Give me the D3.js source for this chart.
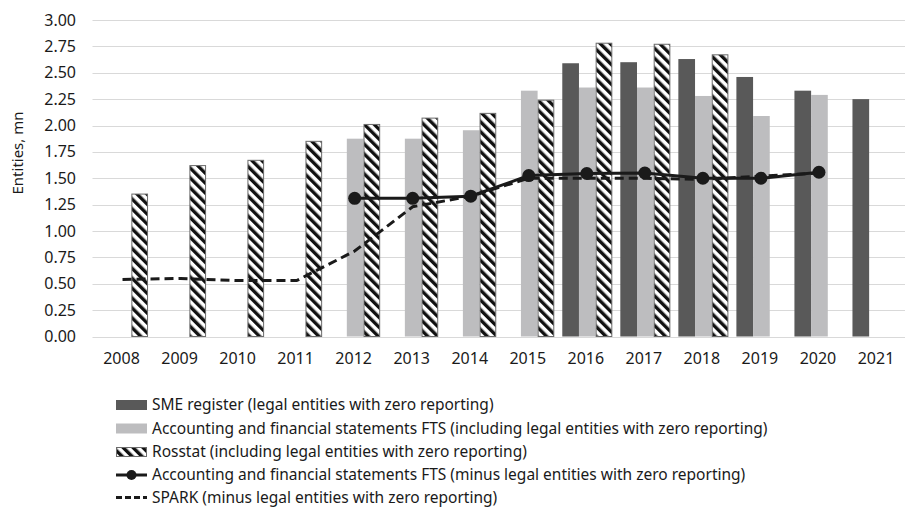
<!DOCTYPE html>
<html>
<head>
<meta charset="utf-8">
<script src="https://cdn.jsdelivr.net/npm/d3@7"></script>
<style>
  body { margin: 0; background: #fff; }
  text { font-family: "Noto Sans", sans-serif; fill: #1a1a1a; }
</style>
</head>
<body>
<div id="chart"></div>
<script>
// data
const years = ["2008","2009","2010","2011","2012","2013","2014","2015","2016","2017","2018","2019","2020","2021"];
const smeRegister = [null,null,null,null,null,null,null,null,2.59,2.60,2.63,2.46,2.33,2.25];
const ftsIncl     = [null,null,null,null,1.875,1.875,1.955,2.33,2.36,2.36,2.28,2.09,2.29,null];
const rosstat     = [1.35,1.62,1.67,1.85,2.01,2.07,2.115,2.24,2.78,2.77,2.67,null,null,null];
const ftsMinus    = [null,null,null,null,1.31,1.31,1.33,1.525,1.545,1.55,1.50,1.50,1.557,null];
const spark       = [0.54,0.55,0.53,0.53,0.81,1.23,1.33,1.50,1.50,1.50,1.49,1.52,1.55,null];
const yTicks = [0,0.25,0.5,0.75,1,1.25,1.5,1.75,2,2.25,2.5,2.75,3];
const legendLabels = [
  "SME register (legal entities with zero reporting)",
  "Accounting and financial statements FTS (including legal entities with zero reporting)",
  "Rosstat (including legal entities with zero reporting)",
  "Accounting and financial statements FTS (minus legal entities with zero reporting)",
  "SPARK (minus legal entities with zero reporting)"
];

const W = 905, H = 509;
const svg = d3.select("#chart").append("svg")
  .attr("width", W).attr("height", H);

// hatch pattern for Rosstat
const defs = svg.append("defs");
const pat = defs.append("pattern")
  .attr("id", "hatch")
  .attr("patternUnits", "userSpaceOnUse")
  .attr("width", 7).attr("height", 7)
  .attr("patternTransform", "rotate(-45)");
pat.append("rect").attr("width", 7).attr("height", 7).attr("fill", "#fff");
pat.append("rect").attr("x", 0).attr("width", 3.4).attr("height", 7).attr("fill", "#111");

const x = d3.scaleBand().domain(years).range([92.5, 905]);
const bw = x.bandwidth();
const keys = ["sme", "fts", "ros"];
const x1 = d3.scaleBand().domain(keys).range([5.5, bw - 2.5]);
const y = d3.scaleLinear().domain([0, 3]).range([336.5, 20]);

// grid
svg.append("g")
  .selectAll("line")
  .data(yTicks)
  .join("line")
  .attr("x1", 92.5).attr("x2", 905)
  .attr("y1", d => Math.round(y(d)) + 0.5).attr("y2", d => Math.round(y(d)) + 0.5)
  .attr("stroke", "#d9d9d9").attr("stroke-width", 1);

// y axis labels
svg.append("g")
  .selectAll("text")
  .data(yTicks)
  .join("text")
  .attr("x", 76).attr("y", d => y(d))
  .attr("dy", "0.35em")
  .attr("text-anchor", "end")
  .style("font-size", "16px")
  .text(d => d3.format(".2f")(d));

svg.append("text")
  .attr("transform", "translate(23,153) rotate(-90)")
  .attr("text-anchor", "middle")
  .style("font-size", "15px")
  .text("Entities, mn");

// x axis labels
svg.append("g")
  .selectAll("text")
  .data(years)
  .join("text")
  .attr("x", d => x(d) + bw / 2)
  .attr("y", 358)
  .attr("dy", "0.35em")
  .attr("text-anchor", "middle")
  .style("font-size", "16px")
  .text(d => d);

// bars
const series = [
  { key: "sme", values: smeRegister, fill: "#595959", stroke: "none" },
  { key: "fts", values: ftsIncl, fill: "#bdbdbf", stroke: "none" },
  { key: "ros", values: rosstat, fill: "url(#hatch)", stroke: "#6b6b6b" }
];
series.forEach(s => {
  const pts = years.map((yr, i) => ({ yr, v: s.values[i] })).filter(d => d.v != null);
  svg.append("g")
    .selectAll("rect")
    .data(pts)
    .join("rect")
    .attr("x", d => x(d.yr) + x1(s.key) + (s.stroke === "none" ? 0 : 0.5))
    .attr("y", d => y(d.v))
    .attr("width", x1.bandwidth() - (s.stroke === "none" ? 0 : 1))
    .attr("height", d => y(0) - y(d.v))
    .attr("fill", s.fill)
    .attr("stroke", s.stroke)
    .attr("stroke-width", 1);
});

// lines
const cx = yr => x(yr) + bw / 2 + 1;
const sparkPts = years.map((yr, i) => ({ yr, v: spark[i] })).filter(d => d.v != null);
const ftsPts = years.map((yr, i) => ({ yr, v: ftsMinus[i] })).filter(d => d.v != null);
const line = d3.line().x(d => cx(d.yr)).y(d => y(d.v));

svg.append("path")
  .datum(sparkPts)
  .attr("d", line)
  .attr("fill", "none")
  .attr("stroke", "#1a1a1a")
  .attr("stroke-width", 3)
  .attr("stroke-dasharray", "9,5");

svg.append("path")
  .datum(ftsPts)
  .attr("d", line)
  .attr("fill", "none")
  .attr("stroke", "#1a1a1a")
  .attr("stroke-width", 3);

svg.append("g")
  .selectAll("circle")
  .data(ftsPts)
  .join("circle")
  .attr("cx", d => cx(d.yr))
  .attr("cy", d => y(d.v))
  .attr("r", 6.5)
  .attr("fill", "#1a1a1a");

// legend
const legY = [405, 428.5, 452, 475, 497.5];
const lx = 116, lw = 31;
const lg = svg.append("g");
legendLabels.forEach((lab, i) => {
  const cy = legY[i];
  if (i === 0 || i === 1) {
    lg.append("rect").attr("x", lx).attr("y", cy - 5).attr("width", lw).attr("height", 10)
      .attr("fill", i === 0 ? "#595959" : "#bdbdbf");
  } else if (i === 2) {
    lg.append("rect").attr("x", lx + 0.5).attr("y", cy - 4.5).attr("width", lw - 1).attr("height", 9)
      .attr("fill", "url(#hatch)").attr("stroke", "#6b6b6b");
  } else if (i === 3) {
    lg.append("line").attr("x1", lx).attr("x2", lx + lw).attr("y1", cy).attr("y2", cy)
      .attr("stroke", "#1a1a1a").attr("stroke-width", 3);
    lg.append("circle").attr("cx", lx + lw / 2).attr("cy", cy).attr("r", 5).attr("fill", "#1a1a1a");
  } else {
    lg.append("line").attr("x1", lx).attr("x2", lx + lw).attr("y1", cy).attr("y2", cy)
      .attr("stroke", "#1a1a1a").attr("stroke-width", 3).attr("stroke-dasharray", "6,3");
  }
  lg.append("text")
    .attr("x", 152).attr("y", cy)
    .attr("dy", "0.33em")
    .style("font-size", "15.5px")
    .text(lab);
});
</script>
</body>
</html>
